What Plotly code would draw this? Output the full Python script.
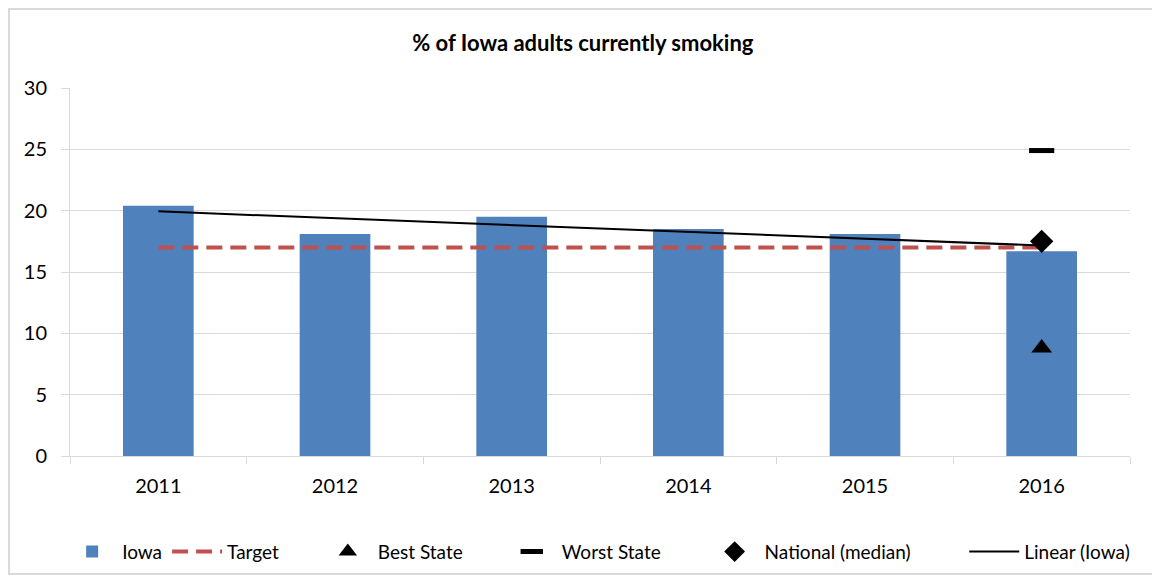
import numpy as np
import plotly.graph_objects as go

years = ["2011", "2012", "2013", "2014", "2015", "2016"]
iowa = [20.4, 18.1, 19.5, 18.5, 18.1, 16.7]
target = [17, 17, 17, 17, 17, 17]
best_state = [None, None, None, None, None, 8.8]
worst_state = [None, None, None, None, None, 24.9]
national_median = [None, None, None, None, None, 17.5]

FONT = "Lato"
BLUE = "#4F81BD"
RED = "#C0504D"
GRID = "#D9D9D9"
NB = "\u00a0"

# Excel-style linear trendline of the Iowa bars
idx = np.arange(1, len(iowa) + 1)
slope, intercept = np.polyfit(idx, iowa, 1)
trend = slope * idx + intercept

fig = go.Figure()
fig.add_trace(go.Bar(
    x=years, y=iowa, name="Iowa", marker={"color": BLUE, "line": {"width": 0}},
    width=0.4,
))
fig.add_trace(go.Scatter(
    x=years, y=target, name="Target" + NB * 7, mode="lines",
    line={"color": RED, "width": 4, "dash": "16px,8px"},
))
fig.add_trace(go.Scatter(
    x=years, y=best_state, name="Best State" + NB * 7, mode="markers",
    marker={"symbol": "triangle-up", "size": 18, "color": "black"},
))
fig.add_trace(go.Scatter(
    x=years, y=worst_state, name="Worst State" + NB * 8, mode="markers",
    marker={"symbol": "line-ew", "size": 18, "line": {"color": "black", "width": 5}},
))
fig.add_trace(go.Scatter(
    x=years, y=national_median, name="National (median)" + NB * 10, mode="markers",
    marker={"symbol": "diamond", "size": 18, "color": "black"},
))
fig.add_trace(go.Scatter(
    x=years, y=trend, name="Linear (Iowa)", mode="lines",
    line={"color": "black", "width": 2},
))

fig.update_xaxes(
    type="category", range=[-0.5, 5.5], showline=True, linecolor=GRID,
    ticks="outside", tickson="boundaries", tickcolor=GRID, ticklen=7,
    ticklabelstandoff=12, showgrid=False,
    tickfont={"size": 20, "color": "black"},
)
fig.update_yaxes(
    range=[0, 30], dtick=5, showline=True, linecolor=GRID, gridcolor=GRID,
    ticks="outside", tickcolor=GRID, ticklen=8, zeroline=False,
    ticklabelstandoff=10, tickfont={"size": 20, "color": "black"},
)
fig.update_layout(
    width=1152, height=570,
    margin={"l": 62, "r": 30, "t": 80, "b": 122, "autoexpand": False},
    paper_bgcolor="white", plot_bgcolor="white",
    font={"family": FONT, "color": "black"},
    title={
        "text": "<b>% of Iowa adults currently smoking</b>",
        "x": 0.499, "xanchor": "center", "y": 0.9386, "yanchor": "middle",
        "font": {"size": 22, "family": FONT},
    },
    legend={
        "orientation": "h", "x": -0.0074, "xanchor": "left",
        "y": -0.26, "yanchor": "middle", "font": {"size": 19},
        "itemwidth": 50, "traceorder": "normal",
    },
    showlegend=True,
    shapes=[{
        "type": "rect", "xref": "paper", "yref": "paper",
        "x0": -0.0575, "x1": 1.0226, "y0": -0.3207, "y1": 1.2147,
        "line": {"color": GRID, "width": 2}, "fillcolor": "rgba(0,0,0,0)",
        "layer": "below",
    }],
)

fig.write_html("out.html")
